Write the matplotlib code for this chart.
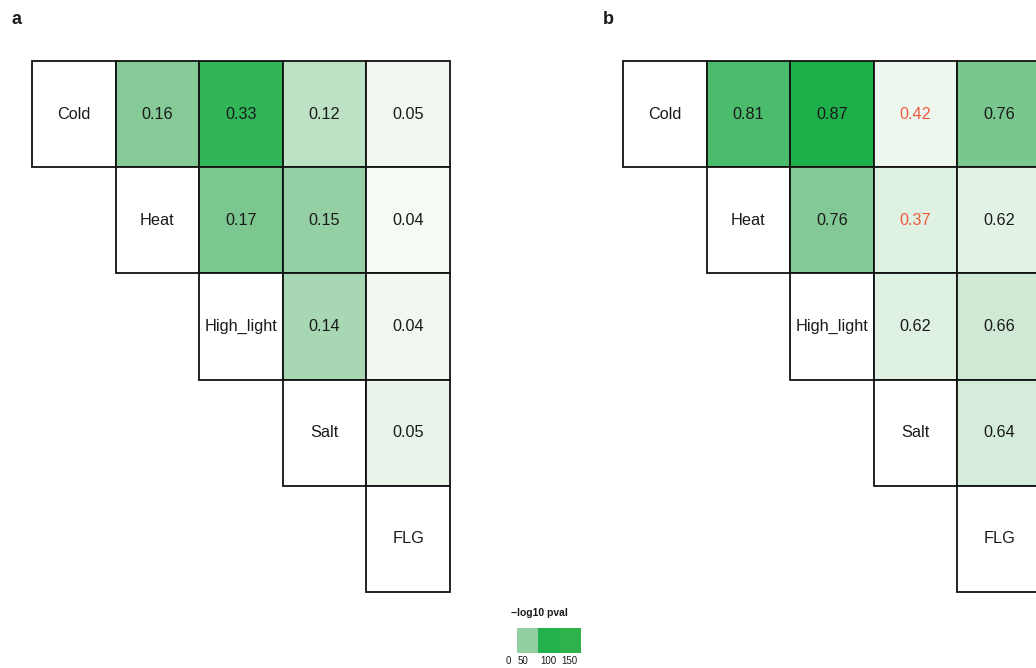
import numpy as np
import matplotlib
matplotlib.use("Agg")
import matplotlib.pyplot as plt
from matplotlib.patches import Rectangle
from matplotlib.colors import LinearSegmentedColormap, Normalize

plt.rcParams['font.family'] = ['Liberation Sans', 'DejaVu Sans']

# Conditions shown along the diagonal
conditions = ["Cold", "Heat", "High_light", "Salt", "FLG"]

# Panel a: overlap scores (upper triangle, row-major) and -log10 p-values
overlap_a = [0.16, 0.33, 0.12, 0.05,
             0.17, 0.15, 0.04,
             0.14, 0.04,
             0.05]
neglogp_a = [81, 143, 42, 5,
             89, 70, 1,
             57, 5,
             11]

# Panel b: overlap scores and -log10 p-values
overlap_b = [0.81, 0.87, 0.42, 0.76,
             0.76, 0.37, 0.62,
             0.62, 0.66,
             0.64]
neglogp_b = [124, 158, 7, 90,
             83, 17, 15,
             17, 29,
             25]
# Non-significant pairs are labelled in red
nonsig_b = [False, False, True, False,
            False, True, False,
            False, False,
            False]

# Colour key
legend_ticks = ["0", "50", "100", "150"]
legend_colors = ["#93cfa0", "#22b14c", "#2db34a"]

cmap = LinearSegmentedColormap.from_list(
    "grn", [(0.0, "#f7fbf7"), (0.5, "#87ca98"), (1.0, "#1aaf48")])
norm = Normalize(vmin=0, vmax=160)

W, H = 1036, 668
fig = plt.figure(figsize=(W / 100, H / 100), dpi=100)

TXT = "#1a1a1a"
CELL_FS = 11.7


def px_axes(x0, y0, x1, y1):
    return fig.add_axes([x0 / W, 1 - y1 / H, (x1 - x0) / W, (y1 - y0) / H])


def draw_panel(ax, overlap, neglogp, nonsig=None):
    n = len(conditions)
    ax.set_xlim(0, n)
    ax.set_ylim(n, 0)
    ax.axis("off")
    k = 0
    for i in range(n):
        ax.add_patch(Rectangle((i, i), 1, 1, facecolor="white",
                               edgecolor="#111111", lw=1.3, clip_on=False))
        ax.text(i + 0.5, i + 0.5, conditions[i], ha="center", va="center",
                fontsize=CELL_FS, color=TXT)
        for j in range(i + 1, n):
            ax.add_patch(Rectangle((j, i), 1, 1,
                                   facecolor=cmap(norm(neglogp[k])),
                                   edgecolor="#111111", lw=1.3, clip_on=False))
            col = "#f05a3c" if (nonsig is not None and nonsig[k]) else TXT
            ax.text(j + 0.5, i + 0.5, f"{overlap[k]:.2f}", ha="center",
                    va="center", fontsize=CELL_FS, color=col)
            k += 1


ax_a = px_axes(32, 61, 450, 592)
draw_panel(ax_a, overlap_a, neglogp_a)
ax_b = px_axes(623, 61, 1041, 592)
draw_panel(ax_b, overlap_b, neglogp_b, nonsig_b)

fig.text(16 / W, 1 - 19 / H, "a", fontsize=13, fontweight="bold",
         ha="center", va="center", color=TXT)
fig.text(608 / W, 1 - 19 / H, "b", fontsize=13, fontweight="bold",
         ha="center", va="center", color=TXT)

# Colour key
ax_l = px_axes(517, 628, 581, 653)
ax_l.set_xlim(0, len(legend_colors))
ax_l.set_ylim(0, 1)
ax_l.axis("off")
for i, c in enumerate(legend_colors):
    ax_l.add_patch(Rectangle((i, 0), 1, 1, facecolor=c, edgecolor="none"))
fig.text(539 / W, 1 - 613 / H, "\u2212log10 pval", fontsize=7.5,
         fontweight="bold", ha="center", va="center", color=TXT)
for lbl, x in zip(legend_ticks, [508, 523, 548, 569]):
    fig.text(x / W, 1 - 661 / H, lbl, fontsize=7, ha="center", va="center",
             color=TXT)

fig.savefig("out.png", dpi=100)
